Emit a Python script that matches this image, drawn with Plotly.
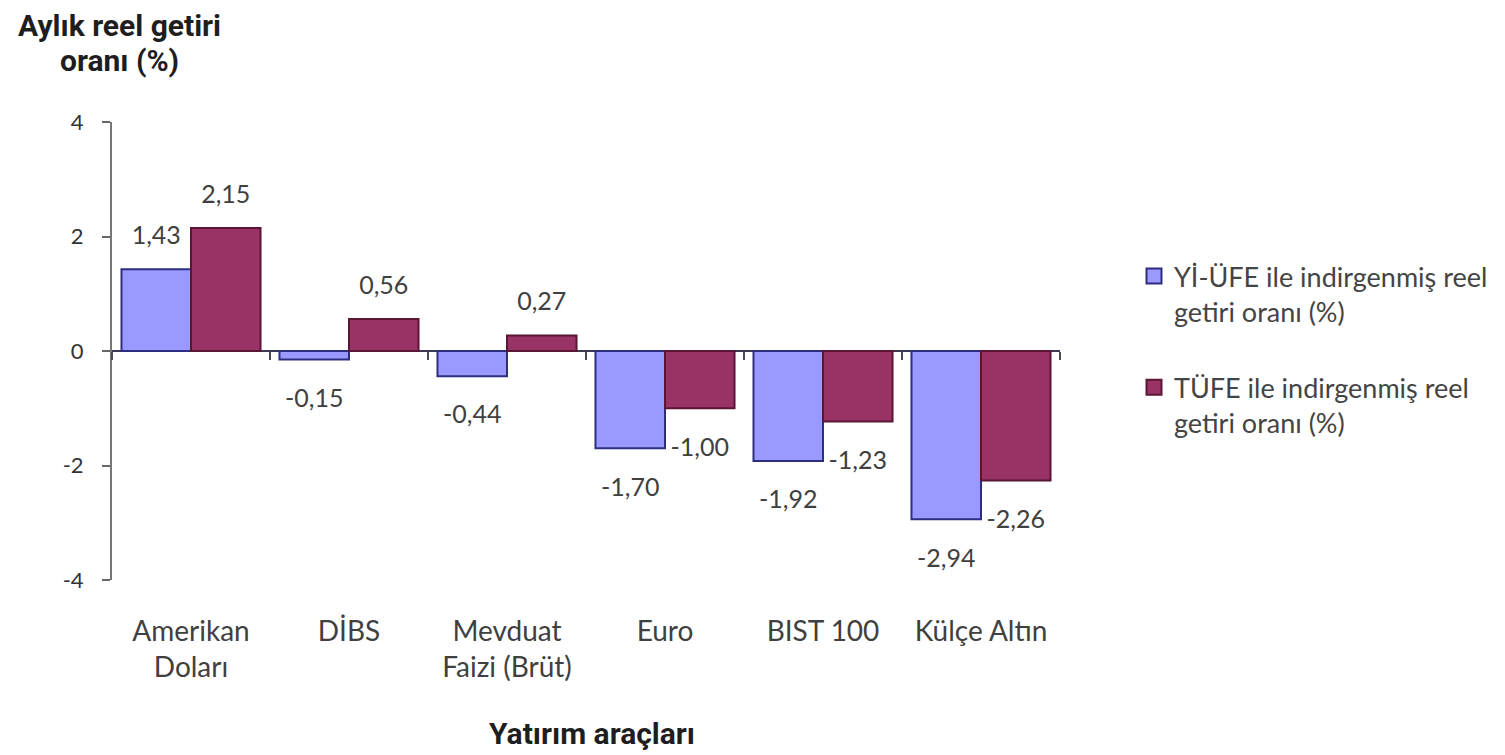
import plotly.graph_objects as go

# kategoriler ve seriler
categories = ["Amerikan<br>Doları", "DİBS", "Mevduat<br>Faizi (Brüt)", "Euro", "BIST 100", "Külçe Altın"]
yi_ufe = [1.43, -0.15, -0.44, -1.70, -1.92, -2.94]
tufe = [2.15, 0.56, 0.27, -1.00, -1.23, -2.26]
series_names = [
    "Yİ-ÜFE ile indirgenmiş reel<br>getiri oranı (%)",
    "TÜFE ile indirgenmiş reel<br>getiri oranı (%)",
]
y_ticks = [-4, -2, 0, 2, 4]

BLUE = "#9999FF"
BLUE_EDGE = "#2E2E80"
RED = "#993366"
RED_EDGE = "#5A1634"
TEXT = "#404040"
FONT = "Lato"
TITLE_FONT = "Roboto"

W, H = 1505, 755
OFF = 8  # the page body margin shifts the figure by 8px
# plot area as it should land on the page
L, R, T, B = 112 - OFF, 1060 - OFF, 122 - OFF, 580 - OFF


def px_x(x):
    return (x - OFF - L) / (R - L)


def px_y(y):
    return (B - (y - OFF)) / (B - T)


fig = go.Figure()
series = [
    (yi_ufe, series_names[0], BLUE, BLUE_EDGE, "1"),
    (tufe, series_names[1], RED, RED_EDGE, "2"),
]
for vals, name, fill, edge, grp in series:
    fig.add_trace(go.Bar(
        x=categories, y=vals, name=name, offsetgroup=grp, showlegend=False,
        marker=dict(color=fill, line=dict(color=edge, width=2)),
        hoverinfo="x+y",
    ))
    # value labels, pushed off the bar end by an invisible marker
    fig.add_trace(go.Scatter(
        x=categories, y=vals, mode="markers+text", offsetgroup=grp, orientation="v",
        text=[f"{v:.2f}".replace(".", ",") for v in vals],
        textposition=["top center" if v >= 0 else "bottom center" for v in vals],
        textfont=dict(size=25, color=TEXT, family=FONT),
        marker=dict(size=[29 if v >= 0 else 44 for v in vals], opacity=0),
        showlegend=False, hoverinfo="skip", cliponaxis=False,
    ))

# legend entries (square swatches)
for vals, name, fill, edge, grp in series:
    fig.add_trace(go.Scatter(
        x=[None], y=[None], xaxis="x2", mode="markers", name=name, legendgroup=grp,
        marker=dict(symbol="square", size=15, color=fill, line=dict(color=edge, width=2)),
    ))

# boundary tick marks on the zero line
fig.add_trace(go.Scatter(
    x=categories, y=[0] * len(categories), xaxis="x2", mode="markers",
    marker=dict(opacity=0), showlegend=False, hoverinfo="skip",
))

fig.update_layout(
    width=W, height=H,
    margin=dict(l=L, r=W - R, t=T, b=H - B, autoexpand=False),
    paper_bgcolor="white", plot_bgcolor="white",
    separators=",.",
    barmode="group", bargap=0.12, bargroupgap=0,
    scattermode="group", scattergap=0.12,
    font=dict(family=FONT, color=TEXT),
    showlegend=True,
    legend=dict(
        x=px_x(1134), y=px_y(252), xanchor="left", yanchor="top",
        font=dict(size=27, color="#444", family=FONT),
        tracegroupgap=38, itemsizing="trace", valign="top",
    ),
    xaxis=dict(
        type="category", categoryarray=categories, range=[-0.5, 5.5],
        showline=False, ticks="", showgrid=False, zeroline=False,
        tickfont=dict(size=28, color=TEXT, family=FONT), ticklabelstandoff=32,
    ),
    xaxis2=dict(
        type="category", categoryarray=categories, overlaying="x",
        anchor="free", position=0.5, range=[-0.5, 5.5],
        showline=False, showgrid=False, zeroline=False, showticklabels=False,
        tickson="boundaries", ticks="outside", ticklen=8, tickwidth=2, tickcolor="#4a4a5a",
    ),
    yaxis=dict(
        range=[-4, 4], tickvals=y_ticks, ticktext=[str(v) for v in y_ticks],
        ticks="outside", ticklen=8, tickwidth=2, tickcolor="#666",
        showline=True, linecolor="#777", linewidth=2, ticklabelstandoff=14,
        showgrid=False, zeroline=True, zerolinecolor="#3a3a55", zerolinewidth=2,
        tickfont=dict(size=22, color="#333", family=FONT),
    ),
)

title_font = dict(size=30, color="#1e1e1e", family=TITLE_FONT)
for txt, ypx in [("<b>Aylık reel getiri</b>", 25), ("<b>oranı (%)</b>", 60)]:
    fig.add_annotation(
        text=txt, xref="paper", yref="paper", x=px_x(119), y=px_y(ypx),
        xanchor="center", yanchor="middle", showarrow=False, font=title_font,
    )
fig.add_annotation(
    text="<b>Yatırım araçları</b>", xref="paper", yref="paper",
    x=px_x(592), y=px_y(733), xanchor="center", yanchor="middle",
    showarrow=False, font=title_font,
)

fig.write_html("out.html")
